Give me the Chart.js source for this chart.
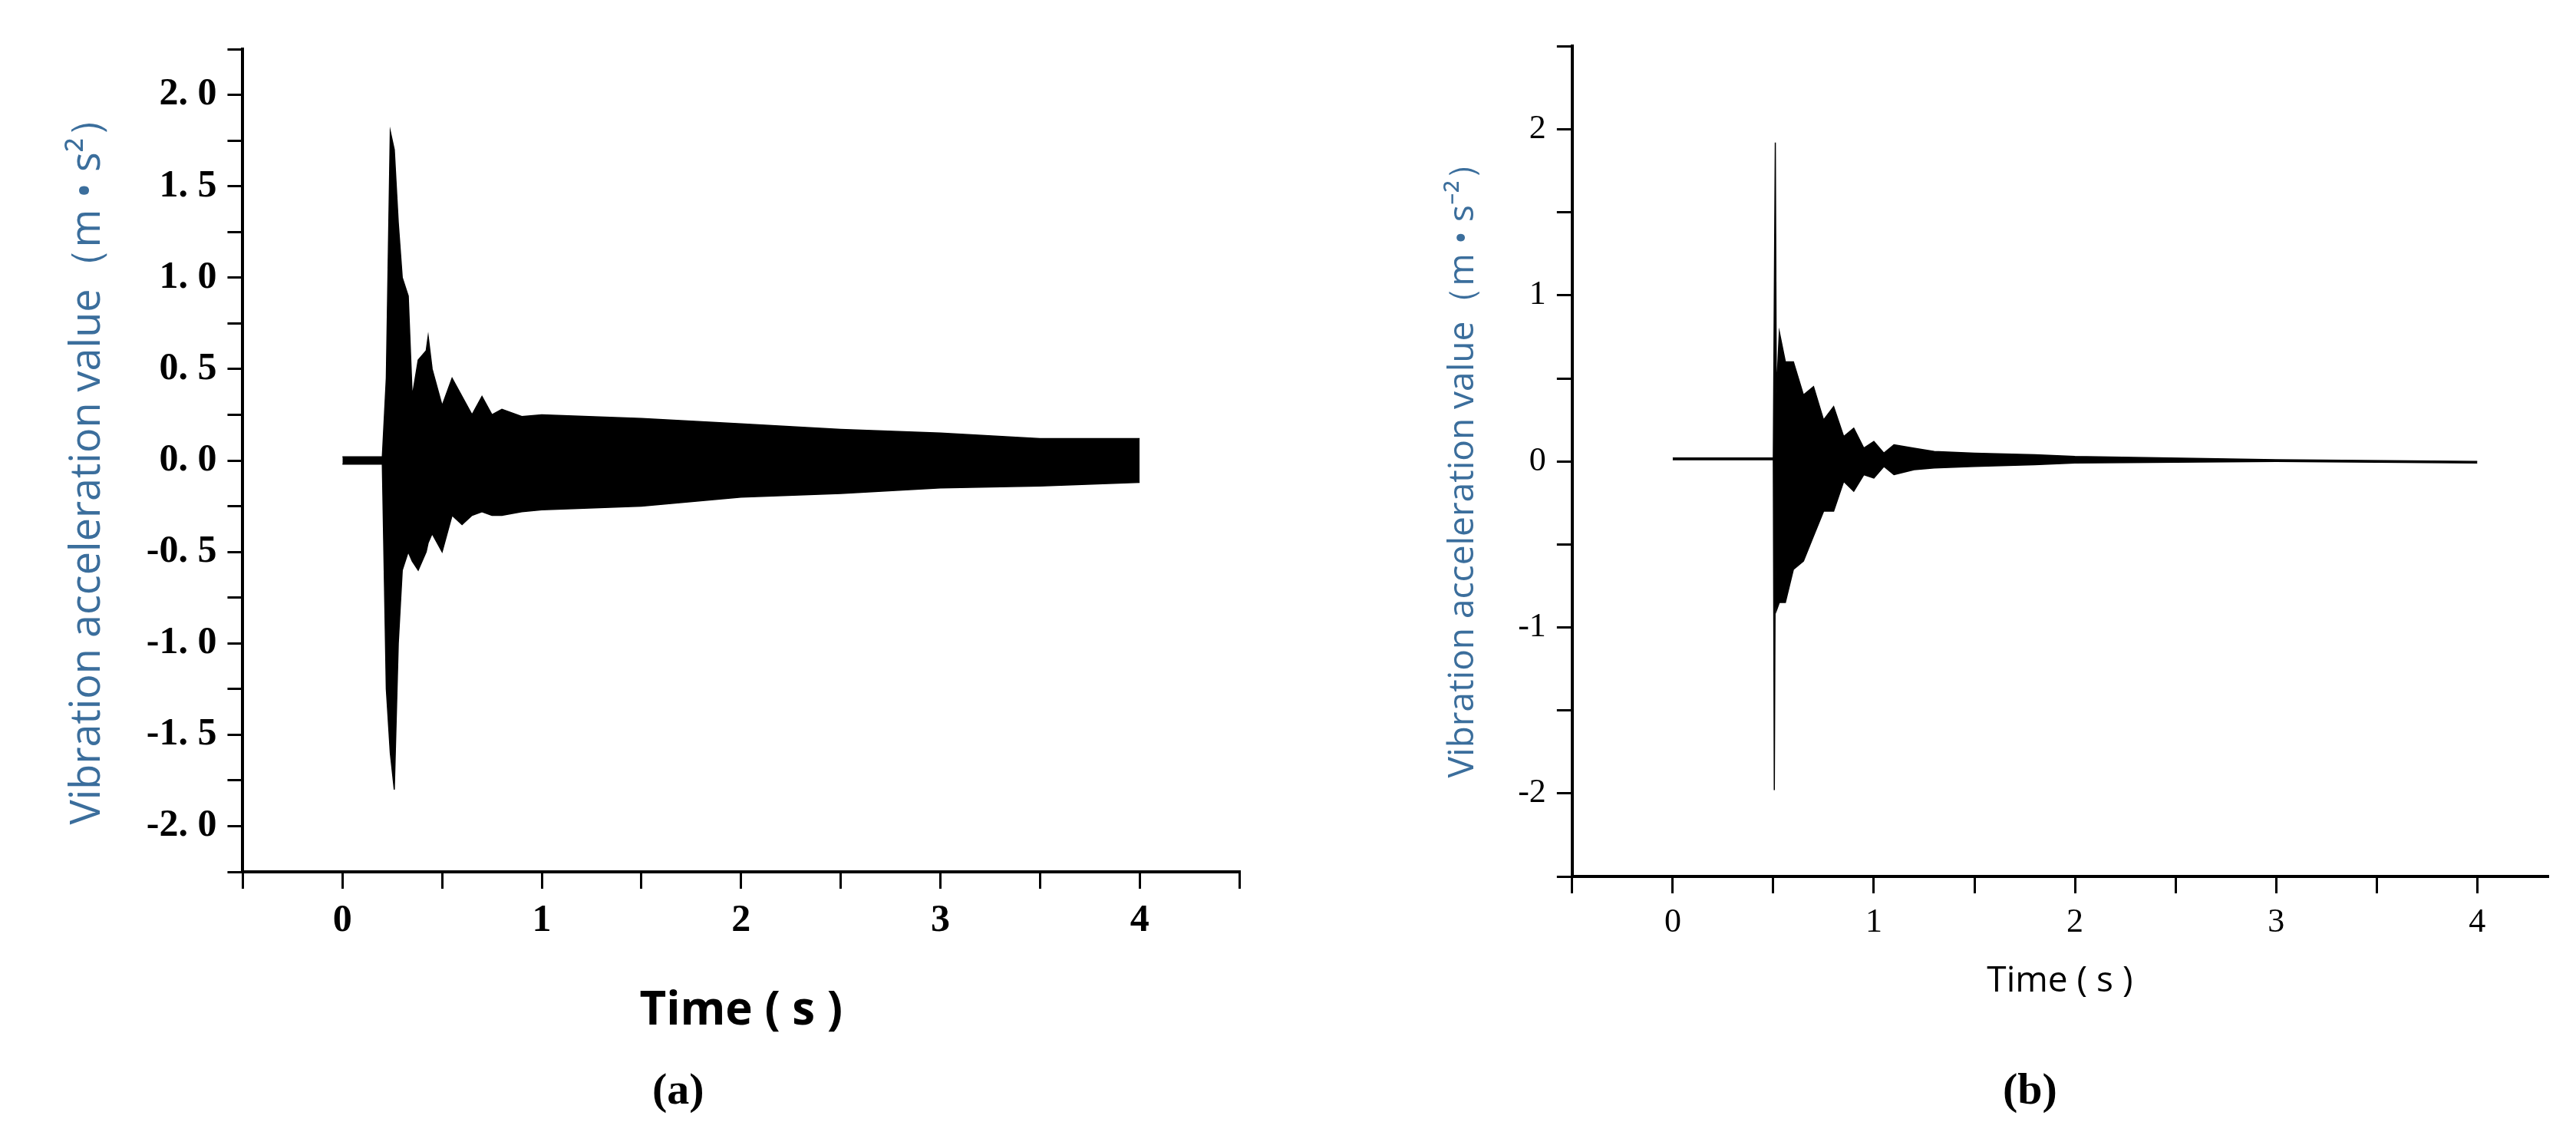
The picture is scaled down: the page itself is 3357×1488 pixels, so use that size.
<!DOCTYPE html>
<html>
<head>
<meta charset="utf-8">
<script src="https://cdn.jsdelivr.net/npm/chart.js@4/dist/chart.umd.min.js"></script>
<style>
  body { margin: 0; background: #fff; width: 3357px; height: 1488px; position: relative; overflow: hidden; }
  .box { position: absolute; }
  .cap { position: absolute; font-family: "Liberation Serif", serif; font-weight: bold; font-size: 58px; }
</style>
</head>
<body>
<div class="box" style="left:20px;top:20px;width:1615px;height:1338px"><canvas id="chartA"></canvas></div>
<div class="box" style="left:1800px;top:20px;width:1540px;height:1290px"><canvas id="chartB"></canvas></div>
<div class="cap" style="left:850px;top:1385px">(a)</div>
<div class="cap" style="left:2610px;top:1385px">(b)</div>
<script>
// (a) envelope of the vibration signal
const timeA = [0, 0.2, 0.22, 0.24, 0.26, 0.28, 0.3, 0.33, 0.35, 0.38, 0.42, 0.43, 0.45, 0.5, 0.55, 0.6, 0.65, 0.7, 0.75, 0.8, 0.9, 1.0, 1.5, 2.0, 2.5, 3.0, 3.5, 4.0];
const upperA = [0.02, 0.02, 0.45, 1.8, 1.7, 1.3, 1.0, 0.9, 0.35, 0.55, 0.6, 0.68, 0.5, 0.3, 0.45, 0.35, 0.25, 0.35, 0.25, 0.28, 0.24, 0.25, 0.23, 0.2, 0.17, 0.15, 0.12, 0.12];
const lowerA = [-0.02, -0.02, -1.25, -1.6, -1.8, -1.0, -0.6, -0.5, -0.55, -0.6, -0.5, -0.45, -0.4, -0.5, -0.3, -0.35, -0.3, -0.28, -0.3, -0.3, -0.28, -0.27, -0.25, -0.2, -0.18, -0.15, -0.14, -0.12];

// (b) envelope of the vibration signal
const timeB = [0, 0.5, 0.505, 0.51, 0.515, 0.53, 0.56, 0.6, 0.65, 0.7, 0.75, 0.8, 0.85, 0.9, 0.95, 1.0, 1.05, 1.1, 1.2, 1.3, 1.5, 1.8, 2.0, 3.0, 4.0];
const upperB = [0.02, 0.02, 1.0, 1.92, 0.4, 0.78, 0.6, 0.6, 0.4, 0.45, 0.25, 0.33, 0.15, 0.2, 0.08, 0.12, 0.05, 0.1, 0.08, 0.06, 0.05, 0.04, 0.03, 0.01, 0.0];
const lowerB = [0.01, 0.01, -1.98, -0.5, -0.9, -0.85, -0.85, -0.65, -0.6, -0.45, -0.3, -0.3, -0.12, -0.18, -0.08, -0.1, -0.03, -0.08, -0.05, -0.04, -0.03, -0.02, -0.01, 0.0, -0.01];

const ticksA = [-2.0, -1.5, -1.0, -0.5, 0.0, 0.5, 1.0, 1.5, 2.0];
const ticksB = [-2, -1, 0, 1, 2];
const xTicks = [-0.5, 0, 0.5, 1, 1.5, 2, 2.5, 3, 3.5, 4, 4.5];

function pts(t, v) {
  return t.map((x, i) => ({ x: x, y: v[i] }));
}

function makeChart(id, o) {
  new Chart(document.getElementById(id), {
    type: "line",
    data: {
      datasets: [
        { data: pts(o.time, o.upper), borderColor: "#000", borderWidth: 1.5, pointRadius: 0, fill: false, tension: 0 },
        { data: pts(o.time, o.lower), borderColor: "#000", borderWidth: 1.5, pointRadius: 0, fill: "-1", backgroundColor: "#000", tension: 0 },
      ],
    },
    options: {
      responsive: true,
      maintainAspectRatio: false,
      animation: false,
      plugins: { legend: { display: false }, tooltip: { enabled: false } },
      layout: { padding: { right: 20, top: o.padTop, left: o.padLeft } },
      scales: {
        x: {
          type: "linear",
          min: -0.5,
          max: o.xMax,
          afterBuildTicks: (ax) => { ax.ticks = xTicks.filter((v) => v <= o.xMax).map((v) => ({ value: v })); },
          ticks: {
            color: "#000",
            font: o.tickFont,
            padding: 12,
            maxRotation: 0,
            autoSkip: false,
            callback: (v) => (Number.isInteger(v) && v >= 0 ? String(v) : ""),
          },
          grid: { drawOnChartArea: false, color: "#000", lineWidth: 3, tickLength: 22 },
          border: { color: "#000", width: 4 },
          title: { display: true, text: "Time ( s )", color: "#000", font: o.xTitleFont, padding: { top: o.xTitlePad } },
        },
        y: {
          min: o.yMin,
          max: o.yMax,
          afterBuildTicks: (ax) => { ax.ticks = o.yMinor.map((v) => ({ value: v })); },
          ticks: {
            color: "#000",
            font: o.tickFont,
            padding: 14,
            autoSkip: false,
            callback: (v) => {
              const r = o.yTicks.find((t) => Math.abs(t - v) < 1e-9);
              return r === undefined ? "" : o.fmt(r);
            },
          },
          grid: { drawOnChartArea: false, color: "#000", lineWidth: 3, tickLength: 20 },
          border: { color: "#000", width: 4 },
          title: { display: true, text: o.yTitle, color: "#3b6e9c", font: o.yTitleFont, padding: { bottom: 30 } },
        },
      },
    },
  });
}

makeChart("chartA", {
  time: timeA, upper: upperA, lower: lowerA,
  xMax: 4.5, yMin: -2.25, yMax: 2.25, padTop: 40, padLeft: 58,
  yTicks: ticksA,
  yMinor: [-2.25, -2.0, -1.75, -1.5, -1.25, -1.0, -0.75, -0.5, -0.25, 0, 0.25, 0.5, 0.75, 1.0, 1.25, 1.5, 1.75, 2.0, 2.25],
  fmt: (v) => v.toFixed(1).replace(".", ". "),
  tickFont: { family: "Liberation Serif", weight: "bold", size: 50 },
  xTitleFont: { family: "Open Sans", weight: "bold", size: 60 },
  xTitlePad: 40,
  yTitle: "Vibration acceleration value（m • s²）",
  yTitleFont: { family: "Open Sans", size: 54 },
});

makeChart("chartB", {
  time: timeB, upper: upperB, lower: lowerB,
  xMax: 4.35, yMin: -2.5, yMax: 2.5, padTop: 30, padLeft: 75,
  yTicks: ticksB,
  yMinor: [-2.5, -2, -1.5, -1, -0.5, 0, 0.5, 1, 1.5, 2, 2.5],
  fmt: (v) => String(v),
  tickFont: { family: "Liberation Serif", size: 44 },
  xTitleFont: { family: "Open Sans", size: 46 },
  xTitlePad: 10,
  yTitle: "Vibration acceleration value（m • s⁻²）",
  yTitleFont: { family: "Open Sans", size: 46 },
});
</script>
</body>
</html>
